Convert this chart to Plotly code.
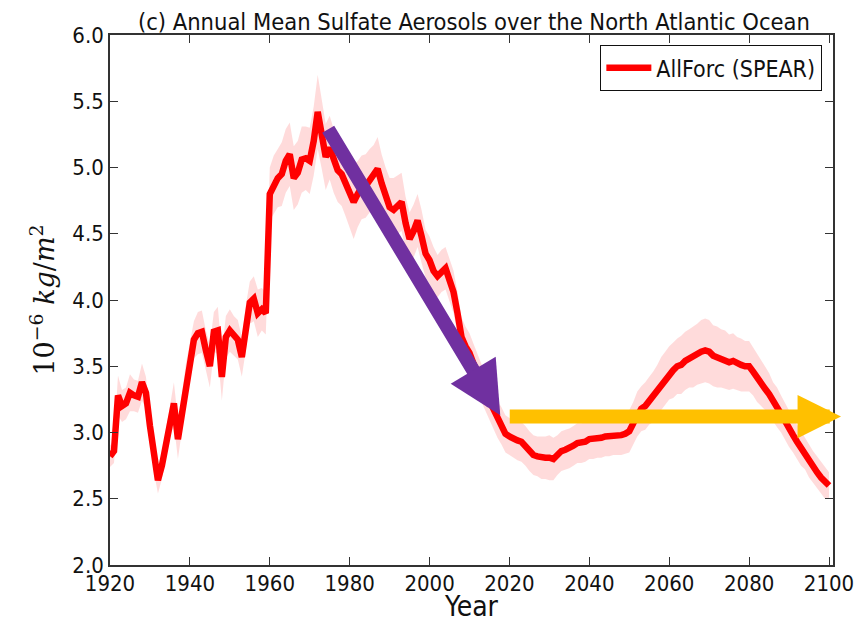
import plotly.graph_objects as go

# ---- data ----
years = list(range(1920, 2101))

ens_mean = [
    2.82, 2.86, 3.28, 3.20, 3.22, 3.30, 3.28, 3.27, 3.38, 3.30,   # 1920s
    3.05, 2.80, 2.64, 2.75, 2.92, 3.08, 3.22, 2.95, 3.15, 3.38,   # 1930s
    3.55, 3.70, 3.75, 3.76, 3.62, 3.50, 3.76, 3.77, 3.42, 3.72,   # 1940s
    3.77, 3.73, 3.70, 3.57, 3.80, 3.98, 4.01, 3.90, 3.93, 3.90,   # 1950s
    4.80, 4.87, 4.92, 4.95, 5.05, 5.10, 4.92, 4.96, 5.06, 5.07,   # 1960s
    5.05, 5.20, 5.42, 5.25, 5.08, 5.15, 5.05, 4.98, 4.95, 4.88,   # 1970s
    4.80, 4.74, 4.80, 4.85, 4.86, 4.90, 4.95, 4.99, 4.88, 4.78,   # 1980s
    4.70, 4.68, 4.72, 4.74, 4.58, 4.46, 4.52, 4.60, 4.48, 4.35,   # 1990s
    4.30, 4.22, 4.18, 4.22, 4.24, 4.15, 4.06, 3.90, 3.72, 3.65,   # 2000s
    3.60, 3.52, 3.44, 3.37, 3.30, 3.24, 3.17, 3.10, 3.05, 2.99,   # 2010s
    2.97, 2.95, 2.94, 2.93, 2.90, 2.86, 2.83, 2.82, 2.81, 2.81,   # 2020s
    2.81, 2.80, 2.83, 2.86, 2.87, 2.88, 2.90, 2.92, 2.92, 2.93,   # 2030s
    2.95, 2.95, 2.96, 2.96, 2.97, 2.97, 2.98, 2.98, 2.98, 2.99,   # 2040s
    3.01, 3.07, 3.14, 3.18, 3.20, 3.24, 3.27, 3.32, 3.37, 3.41,   # 2050s
    3.45, 3.47, 3.50, 3.51, 3.54, 3.56, 3.57, 3.59, 3.61, 3.62,   # 2060s
    3.61, 3.58, 3.57, 3.56, 3.55, 3.53, 3.54, 3.52, 3.51, 3.50,   # 2070s
    3.50, 3.46, 3.41, 3.37, 3.33, 3.29, 3.23, 3.19, 3.14, 3.08,   # 2080s
    3.03, 2.98, 2.93, 2.88, 2.84, 2.78, 2.74, 2.70, 2.66, 2.62,   # 2090s
    2.60,                                                         # 2100
]

# half-range of the faint ensemble members around the mean
ens_spread = [
    0.08, 0.09, 0.15, 0.12, 0.12, 0.14, 0.12, 0.12, 0.14, 0.12,
    0.10, 0.10, 0.10, 0.10, 0.10, 0.12, 0.16, 0.15, 0.14, 0.14,
    0.14, 0.14, 0.16, 0.16, 0.15, 0.16, 0.15, 0.18, 0.18, 0.16,
    0.16, 0.15, 0.15, 0.15, 0.16, 0.16, 0.17, 0.18, 0.16, 0.16,
    0.20, 0.22, 0.22, 0.24, 0.24, 0.24, 0.24, 0.24, 0.25, 0.24,
    0.25, 0.26, 0.28, 0.26, 0.25, 0.24, 0.24, 0.24, 0.24, 0.25,
    0.25, 0.28, 0.25, 0.24, 0.24, 0.24, 0.22, 0.24, 0.22, 0.22,
    0.22, 0.24, 0.22, 0.22, 0.20, 0.20, 0.20, 0.20, 0.20, 0.18,
    0.18, 0.18, 0.16, 0.16, 0.16, 0.16, 0.16, 0.16, 0.15, 0.15,
    0.15, 0.15, 0.15, 0.14, 0.14, 0.14, 0.14, 0.14, 0.14, 0.14,
    0.14, 0.14, 0.15, 0.15, 0.15, 0.15, 0.15, 0.15, 0.16, 0.16,
    0.17, 0.16, 0.15, 0.15, 0.15, 0.15, 0.15, 0.15, 0.15, 0.15,
    0.15, 0.15, 0.15, 0.15, 0.15, 0.15, 0.15, 0.15, 0.15, 0.15,
    0.16, 0.16, 0.17, 0.17, 0.18, 0.18, 0.19, 0.19, 0.20, 0.20,
    0.20, 0.21, 0.21, 0.22, 0.22, 0.22, 0.23, 0.23, 0.24, 0.24,
    0.24, 0.23, 0.23, 0.22, 0.22, 0.21, 0.21, 0.20, 0.20, 0.19,
    0.19, 0.18, 0.18, 0.17, 0.16, 0.16, 0.15, 0.15, 0.14, 0.14,
    0.14, 0.13, 0.13, 0.13, 0.12, 0.12, 0.12, 0.12, 0.12, 0.12,
    0.10,
]

x_ticks = [1920, 1940, 1960, 1980, 2000, 2020, 2040, 2060, 2080, 2100]
y_ticks = [2.0, 2.5, 3.0, 3.5, 4.0, 4.5, 5.0, 5.5, 6.0]

# arrow annotations (year, value): tail -> head
purple_arrow = dict(tail=(1974.4, 5.30), head=(2017.7, 3.13))
yellow_arrow = dict(tail=(2019.7, 3.12), head=(2103.0, 3.12))

band_hi = [m + s for m, s in zip(ens_mean, ens_spread)]
band_lo = [m - s for m, s in zip(ens_mean, ens_spread)]

FONT = "DejaVu Sans Condensed, Liberation Sans Narrow, DejaVu Sans"

fig = go.Figure()
fig.add_trace(go.Scatter(x=years, y=band_hi, mode="lines", line=dict(width=0),
                         showlegend=False, hoverinfo="skip"))
fig.add_trace(go.Scatter(x=years, y=band_lo, mode="lines", line=dict(width=0),
                         fill="tonexty", fillcolor="rgba(255,0,0,0.14)",
                         showlegend=False, hoverinfo="skip"))
fig.add_trace(go.Scatter(x=years, y=ens_mean, mode="lines",
                         line=dict(color="#ff0000", width=6.5),
                         name="AllForc (SPEAR)"))

axis_common = dict(showgrid=False, zeroline=False, showline=True, mirror="ticks",
                   linecolor="#333333", linewidth=1.6, ticks="inside", ticklen=8,
                   tickcolor="#333333", tickwidth=1, automargin=False,
                   tickfont=dict(family=FONT, size=22, color="#111111"))

fig.update_xaxes(range=[1920, 2101], tickvals=x_ticks,
                 ticktext=[str(v) for v in x_ticks], ticklabelstandoff=-2,
                 **axis_common)
fig.update_yaxes(range=[2.0, 6.0], tickvals=y_ticks,
                 ticktext=[f"{v:.1f}" for v in y_ticks],
                 title=dict(text="10<sup>−6</sup> <i>kg</i>/<i>m</i><sup>2</sup>",
                            font=dict(family="DejaVu Serif", size=27, color="#111111"),
                            standoff=10),
                 **axis_common)

# x-axis title placed below the tick labels
fig.add_annotation(text="Year", xref="paper", yref="paper", x=0.5, y=-0.079,
                   xanchor="center", yanchor="middle", showarrow=False,
                   font=dict(family=FONT, size=28, color="#111111"))

for arr, col, size in ((purple_arrow, "#7030A0", 0.75), (yellow_arrow, "#FFC000", 0.62)):
    fig.add_annotation(x=arr["head"][0], y=arr["head"][1],
                       ax=arr["tail"][0], ay=arr["tail"][1],
                       xref="x", yref="y", axref="x", ayref="y",
                       text="", showarrow=True, arrowhead=2, arrowsize=size,
                       arrowwidth=14, arrowcolor=col)

# the page puts the figure 8 px from the top-left corner of the window
fig.update_layout(
    width=858, height=616,
    margin=dict(l=102, r=33, t=27, b=59),
    paper_bgcolor="white", plot_bgcolor="white",
    title=dict(text="(c) Annual Mean Sulfate Aerosols over the North Atlantic Ocean",
               x=0.543, xanchor="center", y=0.977, yanchor="middle",
               font=dict(family=FONT, size=23.5, color="#111111")),
    legend=dict(x=0.985, y=0.981, xanchor="right", yanchor="top",
                bgcolor="white", bordercolor="#111111", borderwidth=1.2,
                itemwidth=45,
                font=dict(family=FONT, size=23, color="#111111")),
    showlegend=True,
)

fig.write_html("out.html")
